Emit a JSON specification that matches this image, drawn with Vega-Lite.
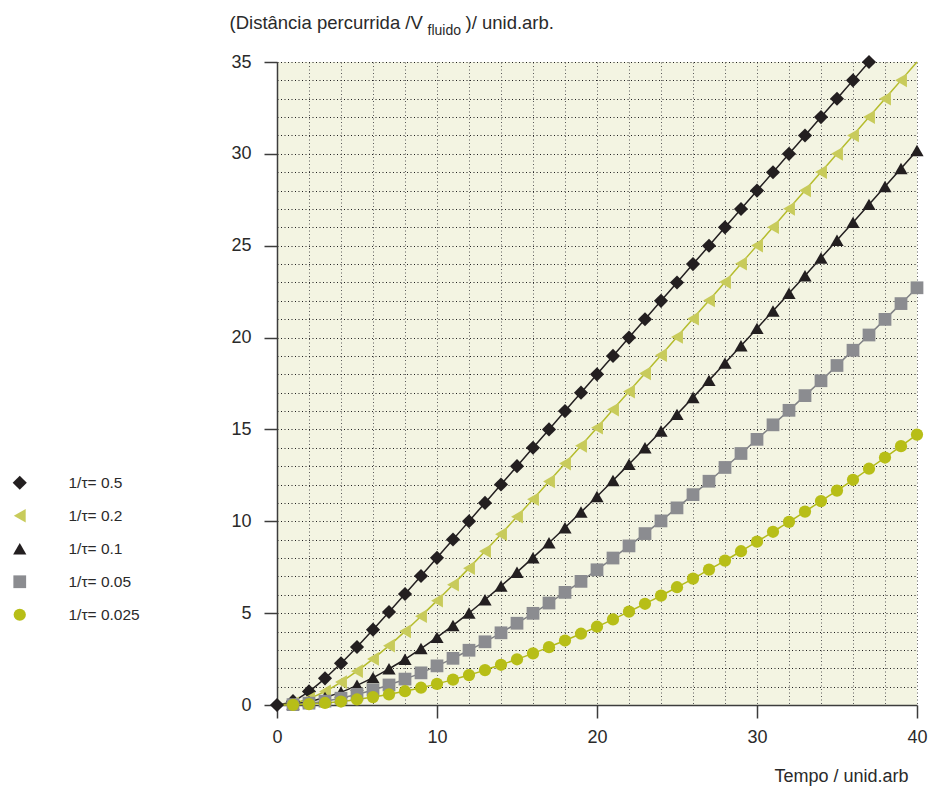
{
  "$schema": "https://vega.github.io/schema/vega-lite/v6.json",
  "width": 640,
  "height": 643,
  "autosize": {"type": "none"},
  "padding": {"left": 277, "top": 62, "right": 12, "bottom": 87},
  "datasets": {
    "curves": [
      {"s":"1/τ= 0.5","t":0,"d":0},{"s":"1/τ= 0.5","t":1,"d":0.21},{"s":"1/τ= 0.5","t":2,"d":0.74},{"s":"1/τ= 0.5","t":3,"d":1.45},{"s":"1/τ= 0.5","t":4,"d":2.27},{"s":"1/τ= 0.5","t":5,"d":3.16},{"s":"1/τ= 0.5","t":6,"d":4.10},{"s":"1/τ= 0.5","t":7,"d":5.06},{"s":"1/τ= 0.5","t":8,"d":6.04},{"s":"1/τ= 0.5","t":9,"d":7.02},{"s":"1/τ= 0.5","t":10,"d":8.01},{"s":"1/τ= 0.5","t":11,"d":9.01},{"s":"1/τ= 0.5","t":12,"d":10.0},{"s":"1/τ= 0.5","t":13,"d":11.0},{"s":"1/τ= 0.5","t":14,"d":12.0},{"s":"1/τ= 0.5","t":15,"d":13.0},{"s":"1/τ= 0.5","t":16,"d":14.0},{"s":"1/τ= 0.5","t":17,"d":15},{"s":"1/τ= 0.5","t":18,"d":16},{"s":"1/τ= 0.5","t":19,"d":17},{"s":"1/τ= 0.5","t":20,"d":18},{"s":"1/τ= 0.5","t":21,"d":19},{"s":"1/τ= 0.5","t":22,"d":20},{"s":"1/τ= 0.5","t":23,"d":21},{"s":"1/τ= 0.5","t":24,"d":22},{"s":"1/τ= 0.5","t":25,"d":23},{"s":"1/τ= 0.5","t":26,"d":24},{"s":"1/τ= 0.5","t":27,"d":25},{"s":"1/τ= 0.5","t":28,"d":26},{"s":"1/τ= 0.5","t":29,"d":27},{"s":"1/τ= 0.5","t":30,"d":28},{"s":"1/τ= 0.5","t":31,"d":29},{"s":"1/τ= 0.5","t":32,"d":30},{"s":"1/τ= 0.5","t":33,"d":31},{"s":"1/τ= 0.5","t":34,"d":32},{"s":"1/τ= 0.5","t":35,"d":33},{"s":"1/τ= 0.5","t":36,"d":34},{"s":"1/τ= 0.5","t":37,"d":35},
      {"s":"1/τ= 0.2","t":0,"d":0},{"s":"1/τ= 0.2","t":1,"d":0.09},{"s":"1/τ= 0.2","t":2,"d":0.35},{"s":"1/τ= 0.2","t":3,"d":0.74},{"s":"1/τ= 0.2","t":4,"d":1.25},{"s":"1/τ= 0.2","t":5,"d":1.84},{"s":"1/τ= 0.2","t":6,"d":2.51},{"s":"1/τ= 0.2","t":7,"d":3.23},{"s":"1/τ= 0.2","t":8,"d":4.01},{"s":"1/τ= 0.2","t":9,"d":4.83},{"s":"1/τ= 0.2","t":10,"d":5.68},{"s":"1/τ= 0.2","t":11,"d":6.55},{"s":"1/τ= 0.2","t":12,"d":7.45},{"s":"1/τ= 0.2","t":13,"d":8.37},{"s":"1/τ= 0.2","t":14,"d":9.30},{"s":"1/τ= 0.2","t":15,"d":10.25},{"s":"1/τ= 0.2","t":16,"d":11.20},{"s":"1/τ= 0.2","t":17,"d":12.17},{"s":"1/τ= 0.2","t":18,"d":13.14},{"s":"1/τ= 0.2","t":19,"d":14.11},{"s":"1/τ= 0.2","t":20,"d":15.09},{"s":"1/τ= 0.2","t":21,"d":16.08},{"s":"1/τ= 0.2","t":22,"d":17.06},{"s":"1/τ= 0.2","t":23,"d":18.05},{"s":"1/τ= 0.2","t":24,"d":19.04},{"s":"1/τ= 0.2","t":25,"d":20.03},{"s":"1/τ= 0.2","t":26,"d":21.03},{"s":"1/τ= 0.2","t":27,"d":22.02},{"s":"1/τ= 0.2","t":28,"d":23.02},{"s":"1/τ= 0.2","t":29,"d":24.02},{"s":"1/τ= 0.2","t":30,"d":25.01},{"s":"1/τ= 0.2","t":31,"d":26.01},{"s":"1/τ= 0.2","t":32,"d":27.01},{"s":"1/τ= 0.2","t":33,"d":28.01},{"s":"1/τ= 0.2","t":34,"d":29.01},{"s":"1/τ= 0.2","t":35,"d":30.0},{"s":"1/τ= 0.2","t":36,"d":31.0},{"s":"1/τ= 0.2","t":37,"d":32.0},{"s":"1/τ= 0.2","t":38,"d":33.0},{"s":"1/τ= 0.2","t":39,"d":34.0},{"s":"1/τ= 0.2","t":40,"d":35.0},
      {"s":"1/τ= 0.1","t":0,"d":0},{"s":"1/τ= 0.1","t":1,"d":0.05},{"s":"1/τ= 0.1","t":2,"d":0.19},{"s":"1/τ= 0.1","t":3,"d":0.41},{"s":"1/τ= 0.1","t":4,"d":0.70},{"s":"1/τ= 0.1","t":5,"d":1.07},{"s":"1/τ= 0.1","t":6,"d":1.49},{"s":"1/τ= 0.1","t":7,"d":1.97},{"s":"1/τ= 0.1","t":8,"d":2.49},{"s":"1/τ= 0.1","t":9,"d":3.07},{"s":"1/τ= 0.1","t":10,"d":3.68},{"s":"1/τ= 0.1","t":11,"d":4.33},{"s":"1/τ= 0.1","t":12,"d":5.01},{"s":"1/τ= 0.1","t":13,"d":5.73},{"s":"1/τ= 0.1","t":14,"d":6.47},{"s":"1/τ= 0.1","t":15,"d":7.23},{"s":"1/τ= 0.1","t":16,"d":8.02},{"s":"1/τ= 0.1","t":17,"d":8.83},{"s":"1/τ= 0.1","t":18,"d":9.65},{"s":"1/τ= 0.1","t":19,"d":10.50},{"s":"1/τ= 0.1","t":20,"d":11.35},{"s":"1/τ= 0.1","t":21,"d":12.22},{"s":"1/τ= 0.1","t":22,"d":13.11},{"s":"1/τ= 0.1","t":23,"d":14.00},{"s":"1/τ= 0.1","t":24,"d":14.91},{"s":"1/τ= 0.1","t":25,"d":15.82},{"s":"1/τ= 0.1","t":26,"d":16.74},{"s":"1/τ= 0.1","t":27,"d":17.67},{"s":"1/τ= 0.1","t":28,"d":18.61},{"s":"1/τ= 0.1","t":29,"d":19.55},{"s":"1/τ= 0.1","t":30,"d":20.50},{"s":"1/τ= 0.1","t":31,"d":21.45},{"s":"1/τ= 0.1","t":32,"d":22.41},{"s":"1/τ= 0.1","t":33,"d":23.37},{"s":"1/τ= 0.1","t":34,"d":24.33},{"s":"1/τ= 0.1","t":35,"d":25.30},{"s":"1/τ= 0.1","t":36,"d":26.27},{"s":"1/τ= 0.1","t":37,"d":27.25},{"s":"1/τ= 0.1","t":38,"d":28.22},{"s":"1/τ= 0.1","t":39,"d":29.20},{"s":"1/τ= 0.1","t":40,"d":30.18},
      {"s":"1/τ= 0.05","t":0,"d":0},{"s":"1/τ= 0.05","t":1,"d":0.02},{"s":"1/τ= 0.05","t":2,"d":0.10},{"s":"1/τ= 0.05","t":3,"d":0.21},{"s":"1/τ= 0.05","t":4,"d":0.37},{"s":"1/τ= 0.05","t":5,"d":0.58},{"s":"1/τ= 0.05","t":6,"d":0.82},{"s":"1/τ= 0.05","t":7,"d":1.09},{"s":"1/τ= 0.05","t":8,"d":1.41},{"s":"1/τ= 0.05","t":9,"d":1.75},{"s":"1/τ= 0.05","t":10,"d":2.13},{"s":"1/τ= 0.05","t":11,"d":2.54},{"s":"1/τ= 0.05","t":12,"d":2.98},{"s":"1/τ= 0.05","t":13,"d":3.44},{"s":"1/τ= 0.05","t":14,"d":3.93},{"s":"1/τ= 0.05","t":15,"d":4.45},{"s":"1/τ= 0.05","t":16,"d":4.99},{"s":"1/τ= 0.05","t":17,"d":5.55},{"s":"1/τ= 0.05","t":18,"d":6.13},{"s":"1/τ= 0.05","t":19,"d":6.73},{"s":"1/τ= 0.05","t":20,"d":7.36},{"s":"1/τ= 0.05","t":21,"d":8.00},{"s":"1/τ= 0.05","t":22,"d":8.66},{"s":"1/τ= 0.05","t":23,"d":9.33},{"s":"1/τ= 0.05","t":24,"d":10.02},{"s":"1/τ= 0.05","t":25,"d":10.73},{"s":"1/τ= 0.05","t":26,"d":11.45},{"s":"1/τ= 0.05","t":27,"d":12.18},{"s":"1/τ= 0.05","t":28,"d":12.93},{"s":"1/τ= 0.05","t":29,"d":13.69},{"s":"1/τ= 0.05","t":30,"d":14.46},{"s":"1/τ= 0.05","t":31,"d":15.25},{"s":"1/τ= 0.05","t":32,"d":16.04},{"s":"1/τ= 0.05","t":33,"d":16.84},{"s":"1/τ= 0.05","t":34,"d":17.65},{"s":"1/τ= 0.05","t":35,"d":18.48},{"s":"1/τ= 0.05","t":36,"d":19.31},{"s":"1/τ= 0.05","t":37,"d":20.14},{"s":"1/τ= 0.05","t":38,"d":20.99},{"s":"1/τ= 0.05","t":39,"d":21.85},{"s":"1/τ= 0.05","t":40,"d":22.71},
      {"s":"1/τ= 0.025","t":0,"d":0},{"s":"1/τ= 0.025","t":1,"d":0.01},{"s":"1/τ= 0.025","t":2,"d":0.05},{"s":"1/τ= 0.025","t":3,"d":0.11},{"s":"1/τ= 0.025","t":4,"d":0.19},{"s":"1/τ= 0.025","t":5,"d":0.30},{"s":"1/τ= 0.025","t":6,"d":0.43},{"s":"1/τ= 0.025","t":7,"d":0.58},{"s":"1/τ= 0.025","t":8,"d":0.75},{"s":"1/τ= 0.025","t":9,"d":0.94},{"s":"1/τ= 0.025","t":10,"d":1.15},{"s":"1/τ= 0.025","t":11,"d":1.38},{"s":"1/τ= 0.025","t":12,"d":1.63},{"s":"1/τ= 0.025","t":13,"d":1.90},{"s":"1/τ= 0.025","t":14,"d":2.19},{"s":"1/τ= 0.025","t":15,"d":2.49},{"s":"1/τ= 0.025","t":16,"d":2.81},{"s":"1/τ= 0.025","t":17,"d":3.15},{"s":"1/τ= 0.025","t":18,"d":3.51},{"s":"1/τ= 0.025","t":19,"d":3.88},{"s":"1/τ= 0.025","t":20,"d":4.26},{"s":"1/τ= 0.025","t":21,"d":4.66},{"s":"1/τ= 0.025","t":22,"d":5.08},{"s":"1/τ= 0.025","t":23,"d":5.51},{"s":"1/τ= 0.025","t":24,"d":5.95},{"s":"1/τ= 0.025","t":25,"d":6.41},{"s":"1/τ= 0.025","t":26,"d":6.88},{"s":"1/τ= 0.025","t":27,"d":7.37},{"s":"1/τ= 0.025","t":28,"d":7.86},{"s":"1/τ= 0.025","t":29,"d":8.37},{"s":"1/τ= 0.025","t":30,"d":8.89},{"s":"1/τ= 0.025","t":31,"d":9.43},{"s":"1/τ= 0.025","t":32,"d":9.97},{"s":"1/τ= 0.025","t":33,"d":10.53},{"s":"1/τ= 0.025","t":34,"d":11.10},{"s":"1/τ= 0.025","t":35,"d":11.67},{"s":"1/τ= 0.025","t":36,"d":12.26},{"s":"1/τ= 0.025","t":37,"d":12.86},{"s":"1/τ= 0.025","t":38,"d":13.47},{"s":"1/τ= 0.025","t":39,"d":14.09},{"s":"1/τ= 0.025","t":40,"d":14.72}
    ]
  },
  "data": {"name": "curves"},
  "layer": [
    {
      "mark": {"type": "line", "interpolate": "monotone", "strokeWidth": 1.5},
      "encoding": {
        "x": {"field": "t", "type": "quantitative", "scale": {"domain": [0, 40], "nice": false},
          "axis": {"orient": "top", "title": ")/ unid.arb.", "labels": false, "ticks": false, "domain": false, "grid": false,
            "titleX": 188, "titleY": -34, "titleAlign": "left", "titleBaseline": "alphabetic", "titleAnchor": "start"}},
        "y": {"field": "d", "type": "quantitative", "scale": {"domain": [0, 35], "nice": false},
          "axis": {"orient": "right", "title": "fluido", "labels": false, "ticks": false, "domain": false, "grid": false,
            "titleAngle": 0, "titleX": -490, "titleY": -28, "titleAlign": "left", "titleBaseline": "alphabetic", "titleFontSize": 14}},
        "stroke": {"field": "s", "type": "nominal",
          "scale": {"domain": ["1/τ= 0.5", "1/τ= 0.2", "1/τ= 0.1", "1/τ= 0.05", "1/τ= 0.025"],
            "range": ["#231f20", "#b5bc2c", "#231f20", "#7f8084", "#b3ba1a"]},
          "legend": {"title": null}}
      }
    },
    {
      "transform": [
        {"filter": "datum.t > 0 || datum.s === '1/τ= 0.5'"},
        {"filter": "!(datum.s === '1/τ= 0.2' && datum.t === 40)"}
      ],
      "mark": {"type": "point", "filled": true, "opacity": 1, "strokeWidth": 0},
      "encoding": {
        "x": {"field": "t", "type": "quantitative", "scale": {"domain": [0, 40], "nice": false},
          "axis": {"orient": "bottom", "values": [0,2,4,6,8,10,12,14,16,18,20,22,24,26,28,30,32,34,36,38,40],
            "labelExpr": "datum.value % 10 === 0 ? datum.label : ''",
            "tickOpacity": {"condition": {"test": "datum.value % 10 === 0", "value": 1}, "value": 0},
            "tickSize": 13, "labelPadding": 10, "labelFlush": false,
            "grid": true, "gridColor": "#5a5a5a", "gridDash": [1, 2.5], "gridWidth": 1,
            "title": "Tempo / unid.arb", "titleX": 631, "titleY": 76, "titleAlign": "right", "titleBaseline": "alphabetic", "titleAnchor": "end", "titleFontSize": 18}},
        "y": {"field": "d", "type": "quantitative", "scale": {"domain": [0, 35], "nice": false},
          "axis": {"orient": "left", "values": [0,1,2,3,4,5,6,7,8,9,10,11,12,13,14,15,16,17,18,19,20,21,22,23,24,25,26,27,28,29,30,31,32,33,34,35],
            "labelExpr": "datum.value % 5 === 0 ? datum.label : ''",
            "tickOpacity": {"condition": {"test": "datum.value % 5 === 0", "value": 1}, "value": 0},
            "tickSize": 13, "labelPadding": 13,
            "grid": true, "gridColor": "#1f1f1f", "gridDash": [1, 2.5], "gridWidth": 1,
            "title": "(Distância percurrida /V", "titleAngle": 0, "titleX": -48, "titleY": -34, "titleAlign": "left", "titleBaseline": "alphabetic"}},
        "color": {"field": "s", "type": "nominal",
          "scale": {"domain": ["1/τ= 0.5", "1/τ= 0.2", "1/τ= 0.1", "1/τ= 0.05", "1/τ= 0.025"],
            "range": ["#231f20", "#c8cb5b", "#231f20", "#8b8c90", "#b7be17"]},
          "legend": {"title": null}},
        "shape": {"field": "s", "type": "nominal",
          "scale": {"domain": ["1/τ= 0.5", "1/τ= 0.2", "1/τ= 0.1", "1/τ= 0.05", "1/τ= 0.025"],
            "range": ["diamond", "triangle-left", "triangle-up", "square", "circle"]},
          "legend": {"title": null}},
        "size": {"field": "s", "type": "nominal",
          "scale": {"domain": ["1/τ= 0.5", "1/τ= 0.2", "1/τ= 0.1", "1/τ= 0.05", "1/τ= 0.025"],
            "range": [200, 150, 140, 85, 130]},
          "legend": null}
      }
    }
  ],
  "resolve": {"axis": {"x": "independent", "y": "independent"}},
  "config": {
    "font": "Liberation Sans",
    "view": {"fill": "#f3f4e2", "stroke": null},
    "axis": {"domainColor": "#3c3c3c", "domainWidth": 1.5, "tickColor": "#3c3c3c", "tickWidth": 1.5,
      "labelFontSize": 18, "labelColor": "#2a2a2a", "labelFont": "Liberation Sans",
      "titleFontSize": 18.5, "titleFontWeight": "normal", "titleColor": "#2a2a2a", "titleFont": "Liberation Sans"},
    "legend": {"orient": "none", "legendX": -265, "legendY": 413, "padding": 0,
      "symbolSize": 120, "labelFontSize": 15.5, "labelColor": "#2a2a2a", "labelOffset": 41,
      "rowPadding": 16, "symbolStrokeWidth": 0}
  }
}
